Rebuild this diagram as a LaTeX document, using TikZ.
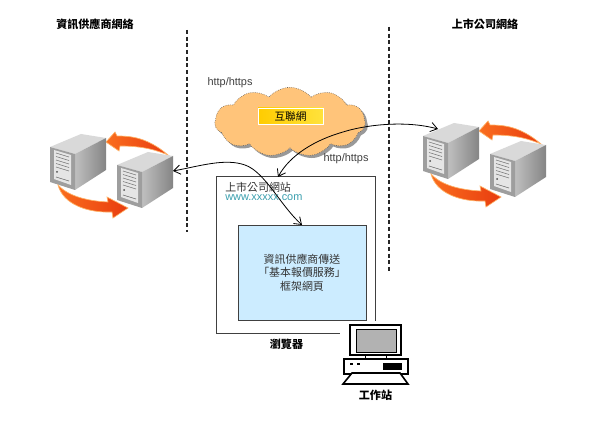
\documentclass[tikz,border=0pt]{standalone}
\usepackage{fontspec}
\setmainfont{Liberation Sans}
\newfontfamily\cjk{Noto Sans CJK TC}
\usetikzlibrary{arrows.meta,shapes.symbols,shadows}
\definecolor{cloudorange}{RGB}{255,196,122}
\definecolor{labelgold}{RGB}{255,204,0}
\definecolor{labelpale}{RGB}{255,226,60}
\definecolor{framesky}{RGB}{204,236,255}
\definecolor{linkteal}{RGB}{60,160,175}
\definecolor{swaporange}{RGB}{250,110,30}
\definecolor{swapred}{RGB}{232,60,15}
\tikzset{
  titlelabel/.style={font=\cjk\bfseries\fontsize{8.3}{10}\selectfont,inner sep=0pt},
  httplabel/.style={font=\fontsize{8.2}{10}\selectfont,text=black!75,inner sep=0pt},
  cjklabel/.style={font=\cjk\fontsize{8.2}{10}\selectfont,text=black!80,inner sep=0pt},
  boundary/.style={densely dashed,thick,black!85},
  link/.style={{Straight Barb[length=5pt,width=7pt]}-{Straight Barb[length=5pt,width=7pt]},semithick},
  swaparrow/.style={left color=swaporange,right color=swapred,draw=orange!60,line width=0.5pt},
  serverpair/.pic={
    % top arrow goes behind the towers
    \path[swaparrow] (168,155) .. controls (147,137) and (130,136) .. (117,136)
      -- (115,132) -- (106,142) -- (119,151) -- (120,146)
      .. controls (143,146) and (156,150) .. cycle;
    \servertower{50}{147}
    \servertower{117}{165}
    \path[swaparrow] (58,185) .. controls (63,204) and (87,213) .. (112,212)
      -- (113,218) -- (128,208) -- (107,197) -- (108,202)
      .. controls (87,201) and (68,196) .. cycle;
  }
}
\newcommand{\servertower}[2]{
  \begin{scope}[shift={(#1,#2)}]
    \fill[black!15] (0,0) -- (31,-13) -- (56,-9) -- (25,7) -- cycle;
    \shade[left color=black!25,right color=black!48] (25,7) -- (56,-9) -- (56,23) -- (25,43) -- cycle;
    \fill[black!38] (0,0) -- (25,7) -- (25,43) -- (0,35) -- cycle;
    \fill[black!10] (4,3) -- (21,8) -- (21,38) -- (4,32) -- cycle;
    \foreach \i in {0,...,4}{
      \draw[black!55,line width=0.4pt] (6,6+3.5*\i) -- (19,10+3.5*\i);
    }
    \fill[black!70] (7,25) circle (1);
    \draw[black!60,line width=0.4pt] (6,30) -- (19,34);
  \end{scope}
}
\begin{document}
\begin{tikzpicture}[x=0.75pt,y=-0.75pt]
  \useasboundingbox (0,0) rectangle (600,431);
  \fill[white] (0,0) rectangle (600,431);

  \node[titlelabel] (providernet) at (95,24) {資訊供應商網絡};
  \node[titlelabel] (listednet) at (485,24) {上市公司網絡};

  \draw[boundary] (187,30) -- (187,232);
  \draw[boundary] (389,27) -- (389,273);

  \pic at (0,0) {serverpair};
  \pic at (373,-11) {serverpair};

  \node[cloud,cloud puffs=11,cloud puff arc=100,aspect=2.2,draw=black!70,densely dotted,fill=cloudorange,
    drop shadow={shadow xshift=2pt,shadow yshift=-2pt,fill=black!50,opacity=0.8},
    minimum width=113pt,minimum height=52pt,inner sep=0pt] (internet) at (290,122) {};
  \node[draw=white,semithick,left color=labelgold,right color=labelpale,
    minimum width=48.75pt,minimum height=12pt,inner sep=0pt,
    font=\cjk\fontsize{8}{10}\selectfont] (internetlabel) at (290.5,116) {互聯網};

  \node[httplabel] (httpa) at (230,83) {http/https};
  \node[httplabel] (httpb) at (346,159) {http/https};

  \node[draw=black!75,fill=white,minimum width=119.25pt,minimum height=117.75pt,inner sep=0pt,outer sep=0pt] (browser) at (295.5,254.5) {};
  \node[cjklabel,anchor=west] (sitename) at (225,187) {上市公司網站};
  \node[httplabel,text=linkteal,anchor=west] (siteurl) at (225,198) {www.xxxxx.com};
  \node[draw=black!75,fill=framesky,minimum width=96pt,minimum height=71.25pt,inner sep=0pt,outer sep=0pt,
    cjklabel,align=center] (frame) at (302,272.5) {資訊供應商傳送\\「基本報價服務」\\框架網頁};
  \node[titlelabel] (browserlabel) at (286.5,344) {瀏覽器};

  \coordinate (providerport) at (173,171);
  \coordinate (listedport) at (438,129);
  \coordinate (browserport) at (278,177);
  \draw[link] (providerport) .. controls (200,166) and (225,158) .. (245,165)
    .. controls (265,172) and (280,205) .. (frame.north);
  \draw[link] (listedport) .. controls (405,120) and (365,125) .. (343,132)
    .. controls (315,140) and (290,155) .. (browserport);

  % workstation
  \fill[white] (340,321) rectangle (412,387);
  \draw[line width=1.2pt,fill=white] (350,325) rectangle (401,355);
  \draw[fill=black!30] (356,329) rectangle (396,352);
  \draw[semithick] (365,355) -- (365,359);
  \draw[semithick] (386,355) -- (386,359);
  \draw[line width=1.2pt,fill=white] (344,359) rectangle (408,374);
  \fill (350,363) rectangle (353,365);
  \fill (357,363) rectangle (360,365);
  \fill (383,363) rectangle (402,370);
  \draw[line width=1.2pt,fill=white] (352,373) -- (400,373) -- (408,384) -- (343,384) -- cycle;
  \node[titlelabel] (workstation) at (375.5,395) {工作站};
\end{tikzpicture}
\end{document}
